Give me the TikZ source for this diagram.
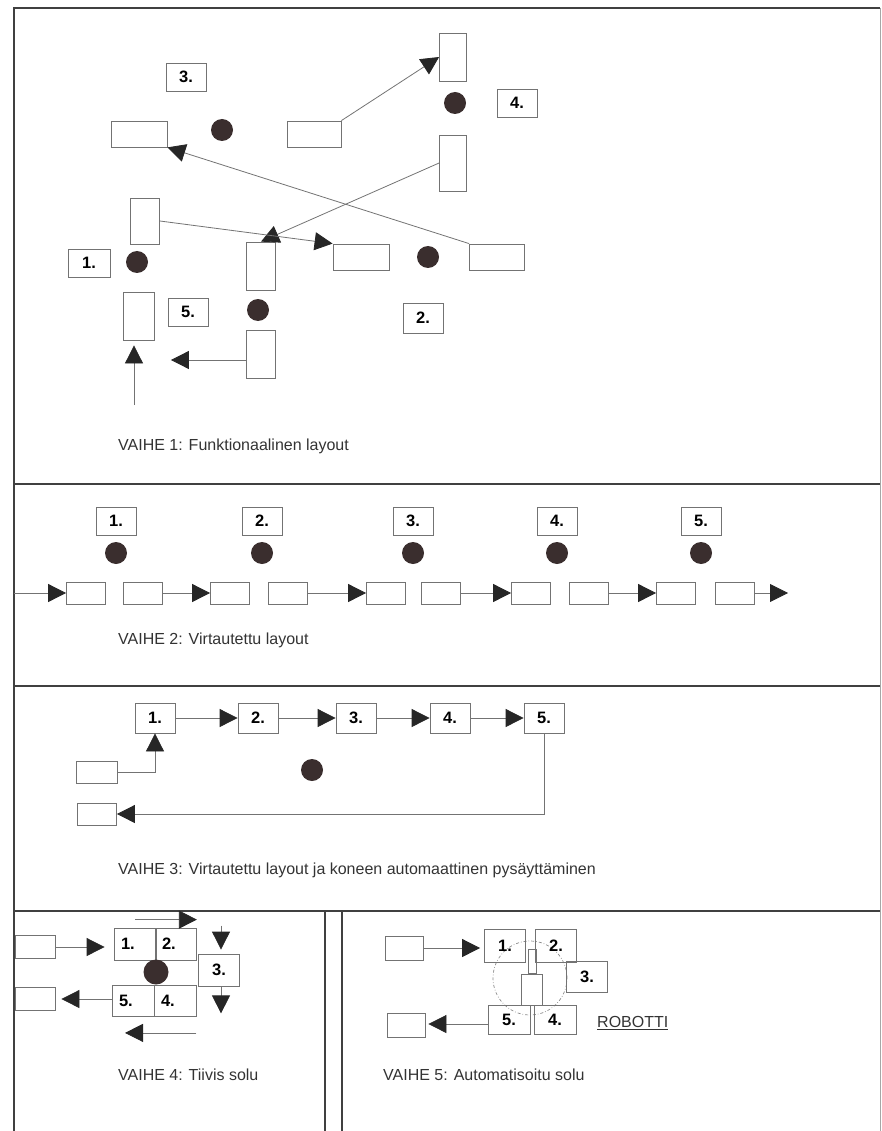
\documentclass[tikz,border=0pt]{standalone}
\usepackage{fontspec}
\setmainfont{Liberation Sans}
\usetikzlibrary{arrows.meta}
\definecolor{machine}{RGB}{58,46,46}
\tikzset{
  wbox/.style={draw=black!55, line width=0.8pt, inner sep=0pt},
  hbox/.style={wbox, minimum width=56pt, minimum height=26pt},
  vbox/.style={wbox, minimum width=29pt, minimum height=48pt},
  sbox/.style={wbox, minimum width=39pt, minimum height=22pt},
  numbox/.style={wbox, minimum width=40pt, minimum height=28pt, font=\fontsize{16.5}{16.5}\selectfont\bfseries},
  cell/.style={wbox, minimum width=42pt, minimum height=32pt, font=\fontsize{16.5}{16.5}\selectfont\bfseries},
  mach/.style={circle, fill=machine, minimum size=22pt, inner sep=0pt},
  flow/.style={draw=black!55, line width=0.8pt, -{Triangle[length=18pt,width=18pt,color=black!85]}},
  frame/.style={draw=black!75, line width=1.6pt},
  caption/.style={anchor=west, inner sep=0pt, text=black!80, font=\fontsize{16}{16}\selectfont}
}
\begin{document}
\begin{tikzpicture}[x=1pt, y=-1pt]
  \useasboundingbox (0,0) rectangle (882,1131);
  \draw[frame] (14,1131) -- (14,8) -- (880,8);
  \draw[draw=black!35, line width=1pt] (880,8) -- (880,1131);
  \draw[frame] (14,484) -- (880,484);
  \draw[frame] (14,686) -- (880,686);
  \draw[frame] (14,911) -- (880,911);
  \draw[frame] (325,911) -- (325,1131);
  \draw[frame] (342,911) -- (342,1131);

  % vaihe 1
  \node[numbox] (lab3) at (186,77) {3.};
  \node[hbox] (b3a) at (139,134) {};
  \node[mach] (m3) at (222,130) {};
  \node[hbox, minimum width=54pt] (b3b) at (314,134) {};
  \node[vbox, minimum width=27pt] (b4a) at (453,57) {};
  \node[mach] (m4) at (455,103) {};
  \node[numbox] (lab4) at (517,103) {4.};
  \node[vbox, minimum width=27pt, minimum height=56pt] (b4b) at (453,163) {};
  \node[vbox, minimum height=46pt] (b1a) at (145,221) {};
  \node[mach] (m1) at (137,262) {};
  \node[numbox, minimum width=42pt] (lab1) at (89,263) {1.};
  \node[hbox] (b2a) at (361,257) {};
  \node[mach] (m2) at (428,257) {};
  \node[hbox, minimum width=55pt] (b2b) at (497,257) {};
  \node[vbox] (b5a) at (261,266) {};
  \node[mach] (m5) at (258,310) {};
  \node[numbox] (lab5) at (188,312) {5.};
  \node[vbox] (b5b) at (261,354) {};
  \node[vbox, minimum width=31pt] (b1b) at (139,316) {};
  \node[numbox, minimum height=30pt] (lab2) at (423,318) {2.};
  \coordinate (in1) at (134,405);
  \draw[flow] (b3b.north east) -- (b4a.west);
  \draw[flow] (b4b.west) -- (b5a.north);
  \draw[flow] (b1a.east) -- (b2a.north west);
  \draw[flow] (b2b.north west) -- (b3a.south east);
  \draw[flow, shorten >=16pt] ([yshift=-6pt]b5b.west) -- ([yshift=-6pt]b5b.west -| b1b.east);
  \draw[flow, shorten >=5pt] (in1) -- (in1 |- b1b.south);
  \node[caption] (cap1) at (118,446) {VAIHE 1: Funktionaalinen layout};

  % vaihe 2
  \foreach \i/\c/\l/\r in {1/116/86/143, 2/262/230/288, 3/413/386/441, 4/557/531/589, 5/701/676/735}{
    \node[numbox] (n\i) at (\c,521) {\i.};
    \node[mach] (k\i) at (\c,553) {};
    \node[sbox] (p\i a) at (\l,593) {};
    \node[sbox] (p\i b) at (\r,593) {};
  }
  \coordinate (in2) at (14,593);
  \coordinate (out2) at (788,593);
  \draw[flow] (in2) -- (p1a.west);
  \foreach \i/\j in {1/2, 2/3, 3/4, 4/5}
    \draw[flow] (p\i b.east) -- (p\j a.west);
  \draw[flow] (p5b.east) -- (out2);
  \node[caption] (cap2) at (118,640) {VAIHE 2: Virtautettu layout};

  % vaihe 3
  \foreach \i/\c in {1/155, 2/258, 3/356, 4/450, 5/544}
    \node[numbox, minimum height=30pt] (q\i) at (\c,718) {\i.};
  \foreach \i/\j in {1/2, 2/3, 3/4, 4/5}
    \draw[flow] (q\i.east) -- (q\j.west);
  \node[sbox, minimum width=41pt] (qin) at (97,772) {};
  \node[sbox] (qout) at (97,814) {};
  \node[mach] (km) at (312,770) {};
  \draw[flow] (qin.east) -| (q1.south);
  \draw[flow] (q5.south) |- (qout.east);
  \node[caption] (cap3) at (118,870) {VAIHE 3: Virtautettu layout ja koneen automaattinen pysäyttäminen};

  % vaihe 4
  \node[cell, text width=28pt, align=left, inner xsep=7pt] (c1) at (135,944) {1.};
  \node[cell, text width=28pt, align=left, inner xsep=4pt, minimum width=41pt] (c2) at (176,944) {2.};
  \node[cell, minimum width=41pt] (c3) at (219,970) {3.};
  \node[cell, text width=28pt, align=left, inner xsep=5pt, minimum height=31pt] (c5) at (133,1001) {5.};
  \node[cell, text width=28pt, align=left, inner xsep=5pt, minimum height=31pt] (c4) at (175,1001) {4.};
  \node[mach, minimum size=25pt] (cm) at (156,972) {};
  \node[sbox, minimum width=40pt, minimum height=23pt] (cin) at (35,947) {};
  \node[sbox, minimum width=40pt, minimum height=23pt] (cout) at (35,999) {};
  \draw[flow, shorten >=9pt] (cin.east) -- (cin.east -| c1.west);
  \draw[flow, shorten >=6pt] (c5.west |- cout.east) -- (cout.east);
  \draw[flow] ([yshift=8pt]c1.north) -- ([yshift=8pt]c2.north east);
  \draw[flow] ([xshift=2pt,yshift=28pt]c3.north) -- ([xshift=2pt,yshift=4pt]c3.north);
  \draw[flow] ([xshift=2pt]c3.south) -- ([xshift=2pt,yshift=-27pt]c3.south);
  \draw[flow] ([yshift=-16pt]c4.south east) -- ([xshift=-8pt,yshift=-16pt]c5.south);
  \node[caption] (cap4) at (118,1075) {VAIHE 4: Tiivis solu};

  % vaihe 5
  \draw[black!45, line width=0.7pt, dash dot] (530,978) circle[radius=37pt];
  \node[cell, minimum width=41pt, minimum height=33pt] (r1) at (505,946) {1.};
  \node[cell, minimum width=41pt, minimum height=33pt] (r2) at (556,946) {2.};
  \node[cell, minimum width=41pt, minimum height=31pt] (r3) at (587,977) {3.};
  \node[cell, minimum height=29pt] (r5) at (509,1020) {5.};
  \node[cell, minimum height=29pt] (r4) at (555,1020) {4.};
  \node[wbox, minimum width=8pt, minimum height=24pt] (arm) at (532,961) {};
  \node[wbox, minimum width=21pt, minimum height=31pt] (robot) at (532,990) {};
  \node[sbox, minimum width=38pt, minimum height=24pt] (rin) at (404,948) {};
  \node[sbox, minimum width=38pt, minimum height=24pt] (rout) at (406,1025) {};
  \draw[flow, shorten >=4pt] (rin.east) -- (rin.east -| r1.west);
  \draw[flow, shorten >=3pt] ([yshift=-4pt]r5.west) -- ([yshift=-4pt]r5.west -| rout.east);
  \node[caption] (robo) at (597,1023) {\underline{ROBOTTI}};
  \node[caption] (cap5) at (383,1075) {VAIHE 5: Automatisoitu solu};
\end{tikzpicture}
\end{document}
